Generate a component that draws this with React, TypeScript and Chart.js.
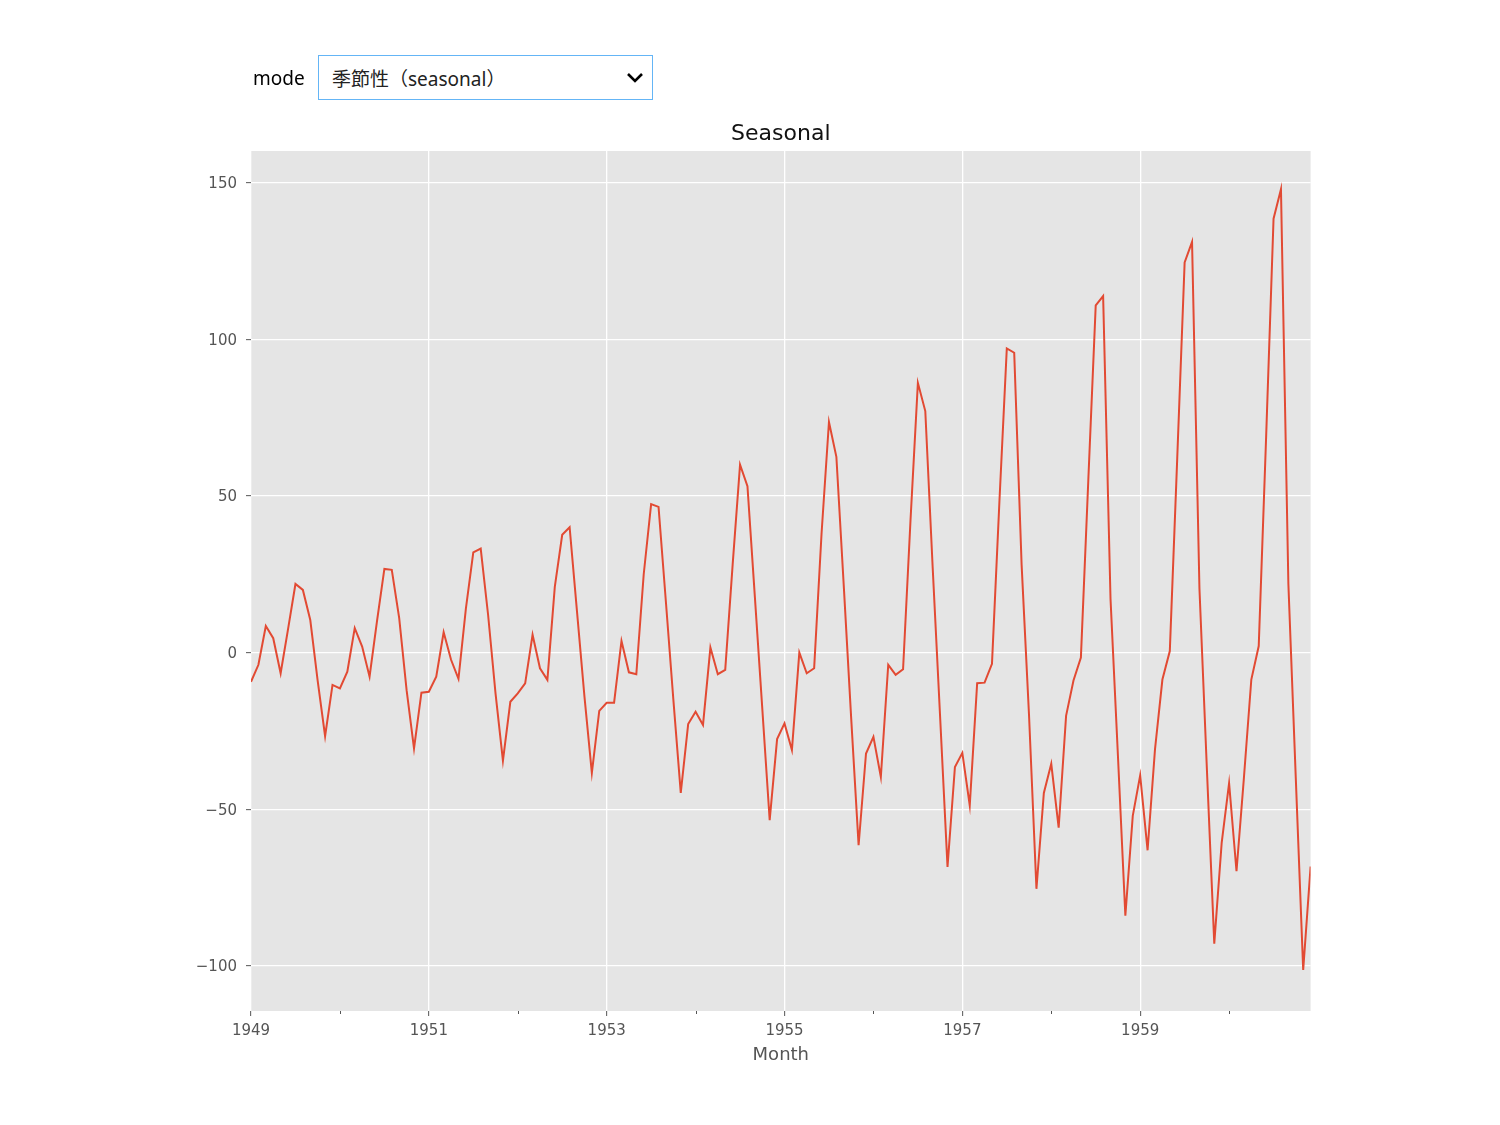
import React, { useEffect, useRef } from "react";
import { Chart, registerables } from "chart.js";

Chart.register(...registerables);

// Seasonal component, one array per year (Jan..Dec)
const s1949 = [-9.3, -3.9, 8.5, 4.6, -6.6, 7.5, 21.9, 20.0, 10.4, -9.0, -26.7, -10.3];
const s1950 = [-11.4, -6.1, 7.8, 1.9, -7.7, 10.0, 26.7, 26.4, 11.0, -12.0, -30.6, -12.8];
const s1951 = [-12.5, -7.7, 6.5, -2.3, -8.4, 14.0, 32.0, 33.2, 12.0, -13.0, -34.5, -15.7];
const s1952 = [-13.0, -9.8, 5.7, -5.0, -8.7, 21.0, 37.6, 40.0, 13.0, -14.0, -38.4, -18.6];
const s1953 = [-16.0, -16.0, 3.7, -6.3, -6.9, 25.0, 47.4, 46.5, 16.0, -15.0, -44.8, -22.8];
const s1954 = [-18.9, -23.1, 1.6, -6.9, -5.5, 28.0, 60.0, 53.1, 17.8, -17.8, -53.5, -27.6];
const s1955 = [-22.6, -31.1, 0.0, -6.6, -5.0, 38.0, 73.6, 62.5, 21.2, -21.0, -61.5, -32.2];
const s1956 = [-26.9, -39.7, -3.9, -7.1, -5.3, 42.0, 86.1, 77.1, 27.0, -20.5, -68.4, -36.5];
const s1957 = [-32.0, -48.8, -9.8, -9.6, -3.6, 48.0, 97.1, 95.7, 28.0, -20.0, -75.4, -44.8];
const s1958 = [-35.5, -55.9, -20.2, -8.9, -1.6, 55.0, 110.8, 113.8, 17.0, -33.0, -84.0, -52.1];
const s1959 = [-39.2, -63.1, -30.9, -8.6, 0.5, 62.0, 124.5, 131.1, 20.4, -37.0, -92.9, -60.7];
const s1960 = [-41.7, -69.8, -40.0, -8.6, 2.1, 69.0, 138.5, 147.9, 22.0, -40.0, -101.3, -68.3];

const years = [1949, 1950, 1951, 1952, 1953, 1954, 1955, 1956, 1957, 1958, 1959, 1960];
const seasonalByYear = [s1949, s1950, s1951, s1952, s1953, s1954, s1955, s1956, s1957, s1958, s1959, s1960];
const yTicks = [-100, -50, 0, 50, 100, 150];
const labeledYears = [1949, 1951, 1953, 1955, 1957, 1959];

const TITLE = "Seasonal";
const X_LABEL = "Month";
const MODE_LABEL = "mode";
const MODE_VALUE = "季節性（seasonal）";

const points = seasonalByYear.flatMap((arr, yi) =>
  arr.map((v, m) => ({ x: yi * 12 + m, y: v }))
);
const yearTickValues = years.map((y) => (y - years[0]) * 12);
const yearOf = (v: number) => years[0] + Math.round(v / 12);

const bgPlugin = {
  id: "plotBg",
  beforeDraw(chart: any) {
    const { ctx, chartArea } = chart;
    ctx.save();
    ctx.fillStyle = "#E5E5E5";
    ctx.fillRect(chartArea.left, chartArea.top, chartArea.right - chartArea.left, chartArea.bottom - chartArea.top);
    ctx.restore();
  },
};

const minorTickPlugin = {
  id: "minorTicks",
  afterDraw(chart: any) {
    const { ctx, chartArea } = chart;
    const xs = chart.scales.x;
    ctx.save();
    ctx.strokeStyle = "#555555";
    ctx.lineWidth = 1;
    yearTickValues.forEach((v) => {
      if (labeledYears.includes(yearOf(v))) return;
      const px = Math.round(xs.getPixelForValue(v)) + 0.5;
      ctx.beginPath();
      ctx.moveTo(px, chartArea.bottom);
      ctx.lineTo(px, chartArea.bottom + 3);
      ctx.stroke();
    });
    ctx.restore();
  },
};

const TICK_FONT = { family: "'DejaVu Sans', sans-serif", size: 15 };

function App() {
  const canvasRef = useRef<HTMLCanvasElement | null>(null);

  useEffect(() => {
    if (!canvasRef.current) return;
    const chart = new Chart(canvasRef.current, {
      type: "line",
      data: {
        datasets: [
          {
            label: "seasonal",
            data: points,
            borderColor: "#E24A33",
            borderWidth: 2,
            pointRadius: 0,
            tension: 0,
            fill: false,
          },
        ],
      },
      options: {
        responsive: false,
        animation: false,
        devicePixelRatio: 1,
        parsing: true,
        layout: { padding: { left: 171, right: 189.4, top: 0, bottom: 54 } },
        plugins: {
          legend: { display: false },
          tooltip: { enabled: false },
          title: {
            display: true,
            text: TITLE,
            fullSize: false,
            color: "#111111",
            font: { family: "'DejaVu Sans', sans-serif", size: 22, weight: "normal", lineHeight: 1.2 },
            padding: { top: 120.8, bottom: 3.8 },
          },
        },
        scales: {
          x: {
            type: "linear",
            min: 0,
            max: 143,
            offset: false,
            afterFit(scale: any) {
              scale.height = 60;
            },
            afterBuildTicks(scale: any) {
              scale.ticks = yearTickValues.map((v) => ({ value: v }));
            },
            border: { display: false },
            grid: {
              color: (ctx: any) =>
                ctx.tick && labeledYears.includes(yearOf(ctx.tick.value)) ? "#FFFFFF" : "rgba(0,0,0,0)",
              tickColor: (ctx: any) =>
                ctx.tick && labeledYears.includes(yearOf(ctx.tick.value)) ? "#555555" : "rgba(0,0,0,0)",
              lineWidth: 1.3,
              tickLength: 5,
              tickWidth: 1,
              drawTicks: true,
            },
            ticks: {
              autoSkip: false,
              maxRotation: 0,
              minRotation: 0,
              padding: 6.5,
              color: "#555555",
              font: TICK_FONT,
              callback: (v: any) => {
                const yr = yearOf(Number(v));
                return labeledYears.includes(yr) ? String(yr) : "";
              },
            },
            title: {
              display: true,
              text: X_LABEL,
              color: "#555555",
              font: { family: "'DejaVu Sans', sans-serif", size: 18, lineHeight: 1.2 },
              padding: { top: 0, bottom: 4.4 },
            },
          },
          y: {
            type: "linear",
            min: -114.4,
            max: 160.1,
            afterFit(scale: any) {
              scale.width = 80;
            },
            afterBuildTicks(scale: any) {
              scale.ticks = yTicks.map((v) => ({ value: v }));
            },
            border: { display: false },
            grid: {
              color: "#FFFFFF",
              tickColor: "#555555",
              lineWidth: 1.3,
              tickLength: 5,
              tickWidth: 1,
              drawTicks: true,
            },
            ticks: {
              autoSkip: false,
              padding: 9,
              labelOffset: 1.5,
              color: "#555555",
              font: TICK_FONT,
              callback: (v: any) => String(v).replace("-", "\u2212"),
            },
          },
        },
      },
      plugins: [bgPlugin, minorTickPlugin],
    } as any);
    return () => chart.destroy();
  }, []);

  const uiFont = "'Noto Sans', 'Noto Sans CJK JP', sans-serif";

  return (
    <div style={{ position: "absolute", left: 0, top: 0, width: 1500, height: 1125, background: "#FFFFFF" }}>
      <canvas ref={canvasRef} width={1500} height={1125} style={{ display: "block", width: 1500, height: 1125 }} />
      <div
        style={{
          position: "absolute",
          left: 253,
          top: 55,
          height: 45,
          display: "flex",
          alignItems: "center",
          fontFamily: uiFont,
        }}
      >
        <span style={{ width: 65, fontSize: 19, color: "#000000" }}>{MODE_LABEL}</span>
        <div
          style={{
            position: "relative",
            boxSizing: "border-box",
            width: 335,
            height: 45,
            border: "1px solid #64B5F6",
            background: "#FFFFFF",
            display: "flex",
            alignItems: "center",
            paddingLeft: 13,
            fontSize: 19,
            color: "#222222",
          }}
        >
          <span>{MODE_VALUE}</span>
          <svg
            width="18"
            height="12"
            viewBox="0 0 18 12"
            style={{ position: "absolute", right: 8, top: 16 }}
          >
            <polyline points="2,2 9,9 16,2" fill="none" stroke="#000000" strokeWidth="2.6" />
          </svg>
        </div>
      </div>
    </div>
  );
}

export default App;
